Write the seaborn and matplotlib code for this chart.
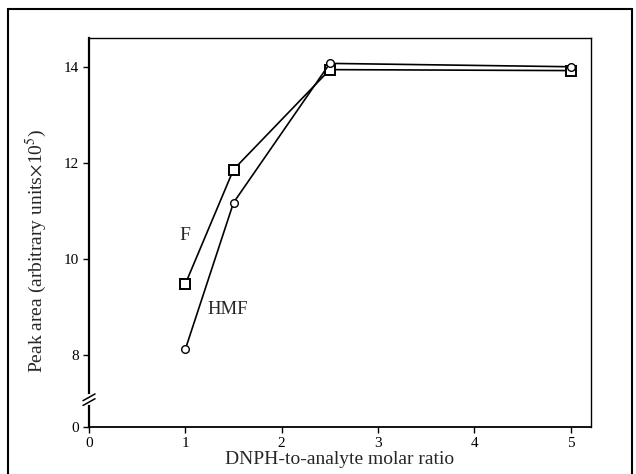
import matplotlib
matplotlib.use("Agg")
import matplotlib.pyplot as plt
import seaborn as sns
import pandas as pd
from matplotlib.patches import Rectangle

# Data
ratio = [1.0, 1.5, 2.5, 5.0]
f_area = [9.48, 11.86, 13.94, 13.92]
hmf_area = [8.12, 11.17, 14.07, 14.0]
x_ticks = [0, 1, 2, 3, 4, 5]
y_ticks = [8, 10, 12, 14]

sns.set_theme(style="ticks")
plt.rcParams['font.family'] = ['Liberation Serif', 'DejaVu Serif']
plt.rcParams['mathtext.fontset'] = 'stix'

fig = plt.figure(figsize=(6.36, 4.74), dpi=100)
ax = fig.add_axes([0.14, 0.099, 0.789, 0.821])

df_f = pd.DataFrame({"ratio": ratio, "area": f_area})
df_h = pd.DataFrame({"ratio": ratio, "area": hmf_area})

sns.lineplot(data=df_f, x="ratio", y="area", ax=ax, color="black", lw=1.2,
             marker="s", markersize=7.5, markerfacecolor="white",
             markeredgecolor="black", markeredgewidth=1.4)
sns.lineplot(data=df_h, x="ratio", y="area", ax=ax, color="black", lw=1.2,
             marker="o", markersize=5.5, markerfacecolor="white",
             markeredgecolor="black", markeredgewidth=1.0)

zero_pos = 6.5
ax.set_xlim(0, 5.21)
ax.set_ylim(zero_pos, 14.6)
ax.set_xticks(x_ticks)
ax.set_xticklabels([str(t) for t in x_ticks], fontsize=11)
ax.set_yticks([zero_pos] + y_ticks)
ax.set_yticklabels(["0"] + [str(t) for t in y_ticks], fontsize=11)
ax.tick_params(direction="out", length=4, width=1, colors="black", pad=3)

for s in ax.spines.values():
    s.set_visible(True)
    s.set_color("black")
    s.set_linewidth(1.0)
ax.spines['left'].set_linewidth(1.6)
ax.spines['bottom'].set_linewidth(1.3)

ax.set_xlabel("DNPH-to-analyte molar ratio", fontsize=14, labelpad=1)
ax.set_ylabel("Peak area (arbitrary units$\\times$10$^{5}$)", fontsize=14)
ax.yaxis.set_label_coords(-0.08, 0.452)

# Axis break marks
brk_y = 7.07
ax.plot([0, 0], [brk_y - 0.07, brk_y + 0.07], color="white", lw=3,
        transform=ax.get_yaxis_transform(), clip_on=False, zorder=5)
for dy in (-0.05, 0.05):
    ax.plot([-0.012, 0.012], [brk_y + dy - 0.07, brk_y + dy + 0.07],
            color="black", lw=1.1, transform=ax.get_yaxis_transform(),
            clip_on=False, zorder=6)

ax.text(0.99, 10.48, "F", fontsize=14, ha="center", va="center")
ax.text(1.44, 8.94, "HMF", fontsize=13.5, ha="center", va="center")

# Outer frame
fig.patches.append(Rectangle((0.012, -0.02), 0.981, 1.0, transform=fig.transFigure,
                             fill=False, edgecolor="black", lw=1.5))

fig.savefig("out.png", dpi=100)
